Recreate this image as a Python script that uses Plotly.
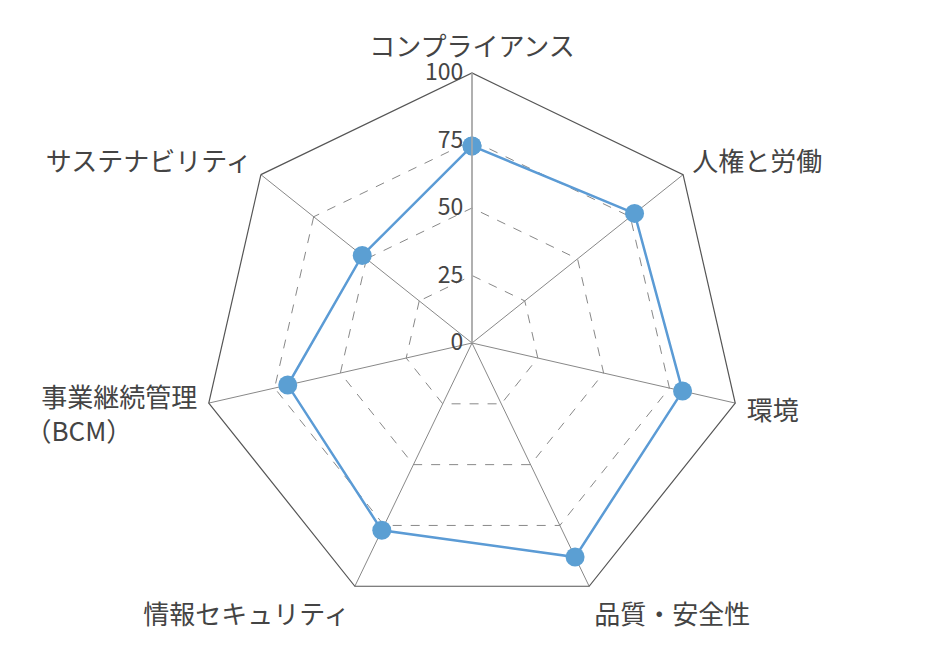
import plotly.graph_objects as go

categories = ["コンプライアンス", "人権と労働", "環境", "品質・安全性",
              "情報セキュリティ", "事業継続管理<br>（BCM）\u3000\u3000\u3000", "サステナビリティ"]
values = [73, 77, 80, 88, 77, 70, 52]
tick_vals = [0, 25, 50, 75, 100]
tick_text = ["0", "25", "50", "75", "100"]

theta = categories + [categories[0]]
r = values + [values[0]]

fig = go.Figure()
fig.add_trace(go.Scatterpolar(
    r=r, theta=theta, mode="lines+markers",
    line=dict(color="#5B9BD5", width=2.5),
    marker=dict(color="#5B9FD3", size=19),
    showlegend=False, cliponaxis=False,
))

cx, cy, R = 464, 335, 270
fig.update_layout(
    width=943, height=647,
    margin=dict(l=0, r=0, t=0, b=0),
    paper_bgcolor="white",
    font=dict(family="Noto Sans CJK JP, sans-serif", color="#444444"),
    polar=dict(
        domain=dict(x=[(cx-R)/943, (cx+R)/943], y=[1-(cy+R)/647, 1-(cy-R)/647]),
        bgcolor="white",
        gridshape="linear",
        angularaxis=dict(
            direction="clockwise", rotation=90,
            showline=True, linecolor="#555555", linewidth=1.2,
            gridcolor="#888888", gridwidth=1,
            ticks="outside", ticklen=6, tickcolor="rgba(0,0,0,0)",
            tickfont=dict(size=26, color="#444444"),
        ),
        radialaxis=dict(
            range=[0, 100], angle=90, tickangle=90,
            tickvals=tick_vals, ticktext=tick_text,
            showline=True, linecolor="#aaaaaa", linewidth=1.5,
            gridcolor="#888888", griddash="dash", gridwidth=1,
            ticks="", tickfont=dict(size=23, color="#444444"),
            side="counterclockwise",
        ),
    ),
)

fig.write_html("out.html")
